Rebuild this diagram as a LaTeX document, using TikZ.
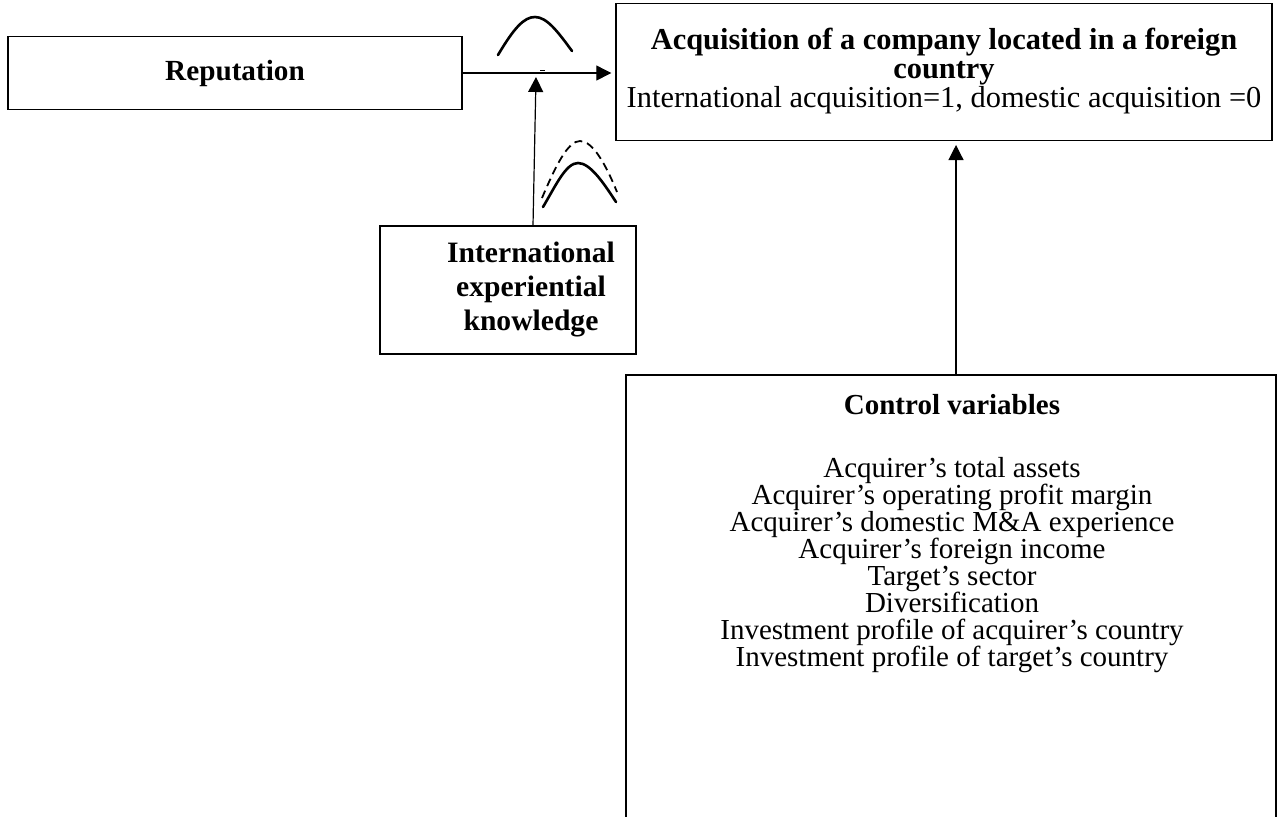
\documentclass[tikz,border=0pt]{standalone}
\usepackage{fontspec}
\setmainfont{Liberation Serif}
\usetikzlibrary{arrows.meta}
\begin{document}
\begin{tikzpicture}[x=0.5pt,y=-0.5pt,
  box/.style={draw, line width=0.7pt, inner sep=0pt},
  arr/.style={line width=0.6pt, -{Triangle[length=7.5pt,width=7.5pt]}},
  arch/.style={line width=1.3pt, line cap=round},
  txt/.style={align=center, inner sep=0pt, font=\fontsize{14.5}{13.5}\selectfont}]
\useasboundingbox (0,0) rectangle (1278,816);
\clip (0,0) rectangle (1278,816);
% boxes
\node[box, minimum width=227pt, minimum height=36.5pt] (rep) at (235,73) {};
\node[txt, font=\fontsize{14.6}{13.5}\selectfont\bfseries] (reptxt) at (rep.center) {Reputation};
\node[box, minimum width=328pt, minimum height=68.5pt] (acq) at (944,72) {};
\node[txt, font=\fontsize{15.2}{14.3}\selectfont] (acqtxt) at (944,71) {{\bfseries Acquisition of a company located in a foreign}\\{\bfseries country}\\International acquisition=1, domestic acquisition =0};
\node[box, minimum width=128pt, minimum height=64pt] (int) at (508,290) {};
\node[txt, font=\fontsize{14.8}{17}\selectfont\bfseries] (inttxt) at (531,289) {International\\experiential\\knowledge};
\node[box, minimum width=325pt, minimum height=227.5pt] (ctrl) at (951,602.5) {};
\node[txt, font=\fontsize{14.5}{13.5}\selectfont\bfseries] (ctrltitle) at (952,405) {Control variables};
\node[txt] (ctrllist) at (952,565.5) {Acquirer’s total assets\\Acquirer’s operating profit margin\\Acquirer’s domestic M\&A experience\\Acquirer’s foreign income\\Target’s sector\\Diversification\\Investment profile of acquirer’s country\\Investment profile of target’s country};
% connectors
\coordinate (ia) at (536,77);
\coordinate (ca) at (956,145);
\draw[arr] (rep.east) -- ([xshift=-2pt]rep.east -| acq.west);
\draw[arr] ([xshift=12.5pt]int.north) -- (ia);
\draw[arr] ([xshift=2.5pt]ctrl.north) -- (ca);
% moderation arches
\draw[arch] (498,55) .. controls (514,28) and (524,17) .. (535,17) .. controls (547,17) and (558,32) .. (572,51);
\draw[arch] (543,207) .. controls (556,185) and (566,163) .. (578,163) .. controls (590,163) and (603,182) .. (616,202);
\draw[line width=0.9pt, dash pattern=on 4pt off 2.5pt] (542,198) .. controls (556,165) and (568,141) .. (580,141) .. controls (593,141) and (606,165) .. (617,192);
\draw[line width=0.5pt] (540,70) -- (545,70);
\end{tikzpicture}
\end{document}
